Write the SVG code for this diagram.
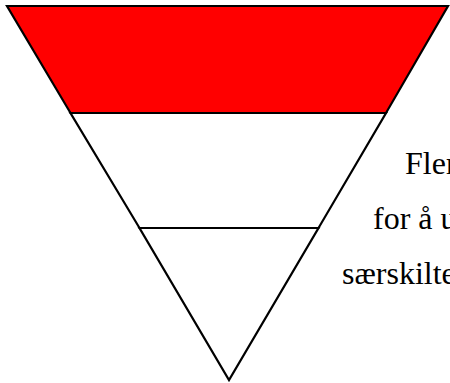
<svg xmlns="http://www.w3.org/2000/svg" width="450" height="383" viewBox="0 0 450 383">
  <style>
    .band { stroke: #000000; stroke-width: 2.2; stroke-linejoin: miter; }
    .top { fill: #FF0000; }
    .plain { fill: #FFFFFF; }
    .label { font-family: "Liberation Serif", "Times New Roman", serif; font-size: 32px; fill: #000000; }
  </style>
  <rect width="450" height="383" fill="#FFFFFF"/>
  <g id="band-top">
    <polygon class="band top" points="7,6 448,6 386,113 70.5,113"/>
  </g>
  <g id="band-middle">
    <polygon class="band plain" points="70.5,113 386,113 318.5,228 139.5,228"/>
  </g>
  <g id="band-bottom">
    <polygon class="band plain" points="139.5,228 318.5,228 229,380"/>
  </g>
  <g id="caption">
    <text class="label" x="405" y="174">Fler</text>
    <text class="label" x="373" y="229">for å u</text>
    <text class="label" x="342" y="284">særskilte</text>
  </g>
</svg>
